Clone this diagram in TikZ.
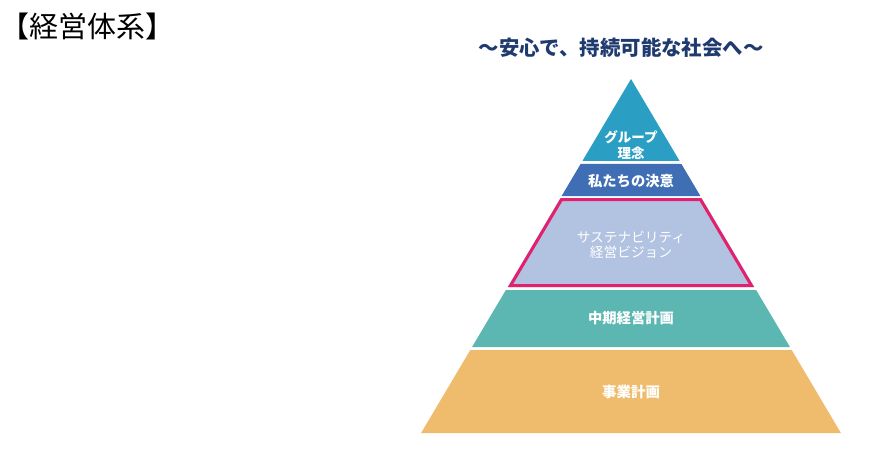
\documentclass[tikz,border=0pt]{standalone}
\usepackage{fontspec}
\newfontfamily\jpfont{Noto Sans CJK JP}
\usepackage{xcolor}
\usetikzlibrary{positioning}

\definecolor{riseblue}{HTML}{2B9FC3}
\definecolor{resolveblue}{HTML}{3F6EB4}
\definecolor{visionlav}{HTML}{B2C2E1}
\definecolor{visionpink}{HTML}{E2206C}
\definecolor{planteal}{HTML}{5CB6B1}
\definecolor{bizorange}{HTML}{EFBB6C}
\definecolor{mottonavy}{HTML}{1E3A6E}

\begin{document}
\begin{tikzpicture}[x=1pt, y=-1pt,
          lbl/.style={text=white, align=center, font=\jpfont\bfseries\fontsize{14.3}{15.5}\selectfont},
          lbllight/.style={lbl, font=\jpfont\fontsize{13.7}{15.5}\selectfont}]
        \useasboundingbox (0,0) rectangle (869,449);
        % heading and motto
        \node[anchor=west, inner sep=0pt, font=\jpfont\fontsize{29}{30}\selectfont] (head) at (0,26) {【経営体系】};
        \node[font=\jpfont\bfseries\fontsize{20.4}{22}\selectfont, text=mottonavy] (motto) at (621,48) {～安心で、持続可能な社会へ～};
        % pyramid layers (apex 631,79)
        \fill[riseblue] (631,79) -- ({631+(161-79)*0.593},161) -- ({631-(161-79)*0.593},161) -- cycle;
        \foreach \ya/\yb/\col in {164/196/resolveblue, 198/287/visionlav, 290/347/planteal, 350/433/bizorange}
          \fill[\col] ({631-(\ya-79)*0.593},\ya) -- ({631+(\ya-79)*0.593},\ya)
                   -- ({631+(\yb-79)*0.593},\yb) -- ({631-(\yb-79)*0.593},\yb) -- cycle;
        \draw[visionpink, line width=3pt, line join=miter]
          ({631-(199.5-79)*0.593+2},199.5) -- ({631+(199.5-79)*0.593-2},199.5)
          -- ({631+(285.5-79)*0.593-2},285.5) -- ({631-(285.5-79)*0.593+2},285.5) -- cycle;
        % labels
        \node[lbl, font=\jpfont\bfseries\fontsize{13.5}{15.5}\selectfont] (group) at (631,145) {グループ\\理念};
        \node[lbl] (resolve) at (631,181) {私たちの決意};
        \node[lbllight] (vision) at (631,245) {サステナビリティ\\経営ビジョン};
        \node[lbl] (midplan) at (631,318) {中期経営計画};
        \node[lbl, font=\jpfont\bfseries\fontsize{14.5}{15.5}\selectfont] (bizplan) at (631,392) {事業計画};
      \end{tikzpicture}
\end{document}
